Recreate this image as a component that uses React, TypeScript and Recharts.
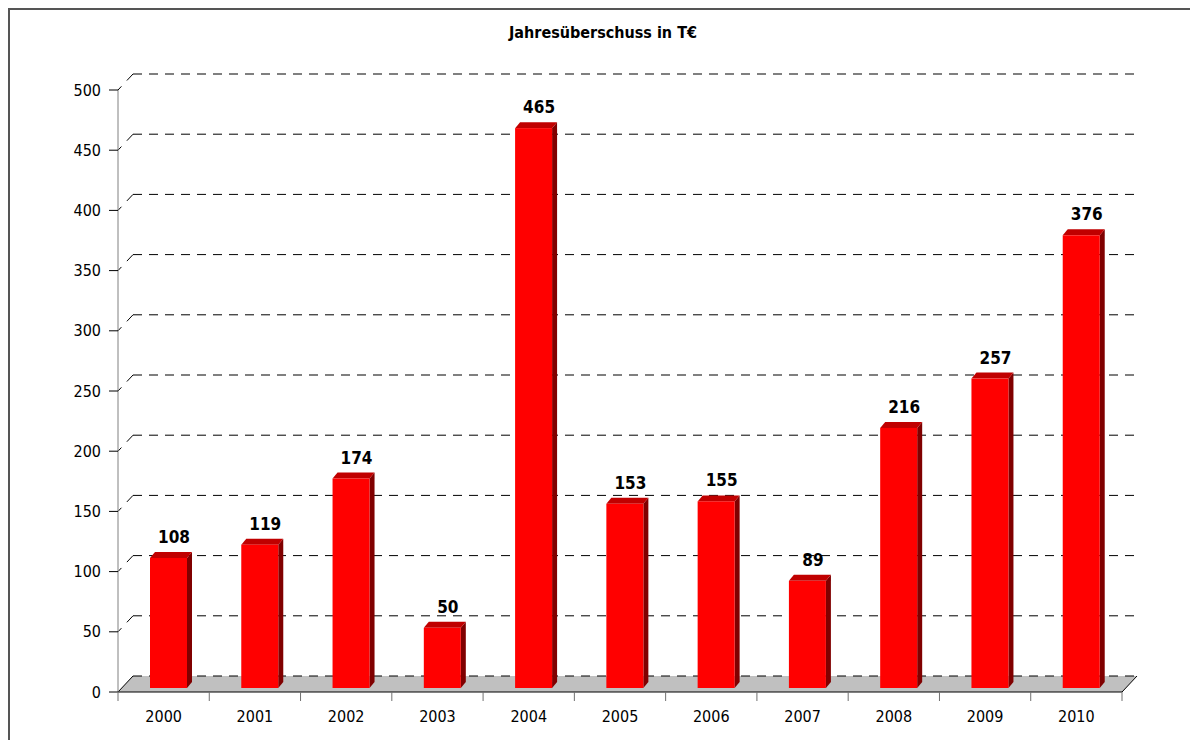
import React from 'react';
import { BarChart, Bar, XAxis, YAxis, CartesianGrid, LabelList } from 'recharts';

const years = ['2000', '2001', '2002', '2003', '2004', '2005', '2006', '2007', '2008', '2009', '2010'];
const surplus = [108, 119, 174, 50, 465, 153, 155, 89, 216, 257, 376];
const yTicks = [0, 50, 100, 150, 200, 250, 300, 350, 400, 450, 500];
const title = 'Jahresüberschuss in T€';

const data = years.map((year, i) => ({ year, value: surplus[i] }));

const FONT = "'DejaVu Sans Condensed', 'Liberation Sans', sans-serif";
const WALL_DX = 15;
const WALL_DY = -16;
const BAR_DX = 5;
const BAR_DY = -4;
const BAR_DEPTH_X = 5;
const BAR_DEPTH_Y = -6;
const X_TICK_MARGIN = 19;

const GridLine = (props: any) => {
  const { x1, y1, x2, y2, y, height } = props;
  const isFloor = Math.abs(y1 - (y + height)) < 0.5;
  const bx1 = x1 + WALL_DX;
  const bx2 = x2 + WALL_DX;
  const by = y1 + WALL_DY;
  if (isFloor) {
    return (
      <g>
        <polygon points={`${x1},${y1} ${x2},${y2} ${bx2},${by} ${bx1},${by}`} fill="#c0c0c0" />
        <line x1={x1} y1={y1} x2={bx1} y2={by} stroke="#000" strokeWidth={1} />
        <line x1={x2} y1={y2} x2={bx2} y2={by} stroke="#000" strokeWidth={1} />
        <line x1={bx1} y1={by} x2={bx2} y2={by} stroke="#000" strokeWidth={1} strokeDasharray="9 7" />
      </g>
    );
  }
  return (
    <g>
      <line x1={x1} y1={y1} x2={bx1} y2={by} stroke="#000" strokeWidth={1} strokeDasharray="5 8 9" />
      <line x1={bx1} y1={by} x2={bx2} y2={by} stroke="#000" strokeWidth={1} strokeDasharray="9 7" />
    </g>
  );
};

const Bar3D = (props: any) => {
  const { x, y, width, height } = props;
  if (!height || height <= 0) return null;
  const fx = x + BAR_DX;
  const fy = y + BAR_DY;
  const dx = BAR_DEPTH_X;
  const dy = BAR_DEPTH_Y;
  return (
    <g>
      <polygon
        points={`${fx + width},${fy} ${fx + width + dx},${fy + dy} ${fx + width + dx},${fy + height + dy} ${fx + width},${fy + height}`}
        fill="#800000"
      />
      <polygon
        points={`${fx},${fy} ${fx + width},${fy} ${fx + width + dx},${fy + dy} ${fx + dx},${fy + dy}`}
        fill="#c00000"
      />
      <rect x={fx} y={fy} width={width} height={height} fill="#ff0000" />
    </g>
  );
};

const TopLabel = (props: any) => {
  const { x, y, width, value } = props;
  return (
    <text
      x={x + width / 2 + BAR_DX + BAR_DEPTH_X / 2 + 3}
      y={y + BAR_DY - 15}
      textAnchor="middle"
      fontFamily={FONT}
      fontWeight="bold"
      fontSize={17}
      fill="#000"
    >
      {value}
    </text>
  );
};

const XTick = (props: any) => {
  const { x, y, payload, index, width, visibleTicksCount } = props;
  const half = width / visibleTicksCount / 2;
  const axisY = y - X_TICK_MARGIN;
  return (
    <g>
      <line x1={x - half} y1={axisY} x2={x - half} y2={axisY + 9} stroke="#707070" />
      {index === visibleTicksCount - 1 && (
        <line x1={x + half} y1={axisY} x2={x + half} y2={axisY + 9} stroke="#707070" />
      )}
      <text x={x} y={y} dy="0.71em" textAnchor="middle" fontFamily={FONT} fontSize={16} fill="#000">
        {payload.value}
      </text>
    </g>
  );
};

export default function App() {
  return (
    <div
      style={{
        position: 'relative',
        width: 1200,
        height: 760,
        borderTop: '2px solid #555',
        borderLeft: '2px solid #555',
        background: '#fff',
      }}
    >
      <style>{`html,body{overflow:hidden;}`}</style>
      <div
        style={{
          position: 'absolute',
          left: 0,
          top: 13,
          width: 1186,
          textAlign: 'center',
          fontFamily: FONT,
          fontWeight: 'bold',
          fontSize: 16,
          lineHeight: '20px',
          color: '#000',
        }}
      >
        {title}
      </div>
      <BarChart
        width={1188}
        height={730}
        data={data}
        margin={{ top: 80, right: 76, left: 48, bottom: 8 }}
        barSize={37}
      >
        <CartesianGrid vertical={false} horizontal={(p: any) => <GridLine key={p.key} {...p} />} />
        <XAxis
          dataKey="year"
          height={40}
          tickLine={false}
          tickSize={0}
          tickMargin={X_TICK_MARGIN}
          axisLine={{ stroke: '#000' }}
          tick={(p: any) => <XTick {...p} />}
          interval={0}
        />
        <YAxis
          width={60}
          domain={[0, 500]}
          ticks={yTicks}
          interval={0}
          tickSize={9}
          tickMargin={8}
          axisLine={{ stroke: '#808080' }}
          tickLine={{ stroke: '#000' }}
          tick={{ fontFamily: FONT, fontSize: 16, fill: '#000' }}
        />
        <Bar dataKey="value" shape={(p: any) => <Bar3D {...p} />} isAnimationActive={false}>
          <LabelList dataKey="value" content={(p: any) => <TopLabel {...p} />} />
        </Bar>
      </BarChart>
    </div>
  );
}
